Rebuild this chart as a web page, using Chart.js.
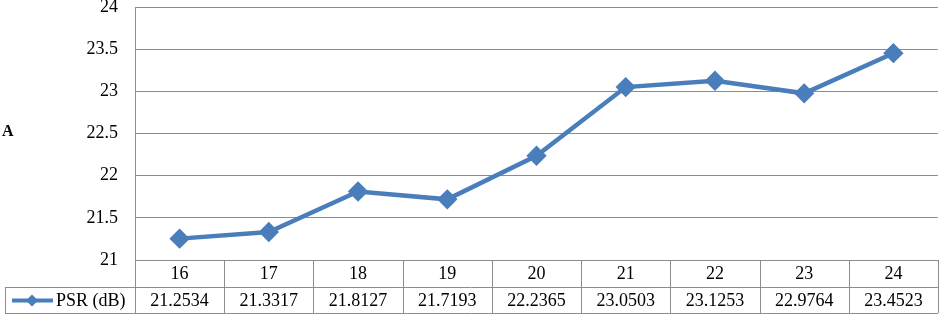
<!DOCTYPE html>
<html>
<head>
<meta charset="utf-8">
<script src="https://cdn.jsdelivr.net/npm/chart.js@4.4.0/dist/chart.umd.min.js"></script>
<style>
  html, body { margin: 0; padding: 0; background: #fff; }
  #wrap { width: 940px; height: 315px; position: relative; }
</style>
</head>
<body>
<div id="wrap"><canvas id="chart" width="940" height="315"></canvas></div>
<script>
const categories = ["16", "17", "18", "19", "20", "21", "22", "23", "24"];
const psrValues = [21.2534, 21.3317, 21.8127, 21.7193, 22.2365, 23.0503, 23.1253, 22.9764, 23.4523];
const tableValues = ["21.2534", "21.3317", "21.8127", "21.7193", "22.2365", "23.0503", "23.1253", "22.9764", "23.4523"];
const seriesName = "PSR (dB)";

const lineColor = "#4a7ebb";
const gridColor = "#8c8c8c";
const serif = "'Liberation Serif', 'Times New Roman', serif";

// table under the plot, drawn from the x scale
const dataTable = {
  id: "dataTable",
  afterDraw(chart) {
    const ctx = chart.ctx;
    const xs = chart.scales.x;
    const area = chart.chartArea;
    const step = xs.width / categories.length;
    const top = area.bottom;
    const mid = top + 27;
    const bottom = top + 53;
    const leftCell = 5;

    ctx.save();
    ctx.strokeStyle = gridColor;
    ctx.lineWidth = 1;
    ctx.beginPath();
    ctx.moveTo(xs.left, top + 0.5); ctx.lineTo(xs.right, top + 0.5);
    ctx.moveTo(leftCell, mid + 0.5); ctx.lineTo(xs.right, mid + 0.5);
    ctx.moveTo(leftCell, bottom + 0.5); ctx.lineTo(xs.right, bottom + 0.5);
    ctx.moveTo(leftCell + 0.5, mid); ctx.lineTo(leftCell + 0.5, bottom);
    for (let i = 0; i <= categories.length; i++) {
      const x = Math.round(xs.left + i * step) + 0.5;
      ctx.moveTo(x, top); ctx.lineTo(x, bottom);
    }
    ctx.stroke();

    ctx.fillStyle = "#000";
    ctx.font = "18px " + serif;
    ctx.textAlign = "center";
    ctx.textBaseline = "middle";
    categories.forEach((c, i) => {
      const x = xs.getPixelForValue(i);
      ctx.fillText(c, x, top + 14);
      ctx.fillText(tableValues[i], x, mid + 14);
    });

    // legend key
    const ky = mid + 13.5;
    ctx.strokeStyle = lineColor;
    ctx.lineWidth = 4;
    ctx.beginPath();
    ctx.moveTo(12, ky); ctx.lineTo(53, ky);
    ctx.stroke();
    ctx.fillStyle = lineColor;
    ctx.beginPath();
    ctx.moveTo(32, ky - 6); ctx.lineTo(38, ky); ctx.lineTo(32, ky + 6); ctx.lineTo(26, ky);
    ctx.closePath();
    ctx.fill();
    ctx.fillStyle = "#000";
    ctx.textAlign = "left";
    ctx.fillText(seriesName, 56, ky + 0.5);

    // side label
    ctx.font = "bold 16px " + serif;
    ctx.fillText("A", 2, 132);
    ctx.restore();
  }
};

new Chart(document.getElementById("chart"), {
  type: "line",
  data: {
    labels: categories,
    datasets: [{
      label: seriesName,
      data: psrValues,
      borderColor: lineColor,
      backgroundColor: lineColor,
      borderWidth: 4.5,
      pointStyle: "rectRot",
      pointRadius: 7,
      pointHoverRadius: 7,
      tension: 0,
      clip: false
    }]
  },
  options: {
    responsive: false,
    animation: false,
    layout: { autoPadding: false, padding: { top: 7, right: 2, left: 0, bottom: 0 } },
    plugins: { legend: { display: false }, tooltip: { enabled: false } },
    scales: {
      x: {
        offset: true,
        grid: { display: false },
        border: { display: false },
        ticks: { display: false },
        afterFit(scale) {
          scale.height = 55;
          scale.paddingLeft = 0;
          scale.paddingRight = 0;
        }
      },
      y: {
        min: 21,
        max: 24,
        ticks: {
          stepSize: 0.5,
          color: "#000",
          font: { family: serif, size: 18 },
          padding: 17,
          callback: (v) => String(Number(v))
        },
        grid: { color: gridColor, drawTicks: false },
        border: { color: gridColor },
        afterFit(scale) {
          scale.width = 135;
          scale.paddingTop = 0;
          scale.paddingBottom = 0;
        }
      }
    }
  },
  plugins: [dataTable]
});
</script>
</body>
</html>
